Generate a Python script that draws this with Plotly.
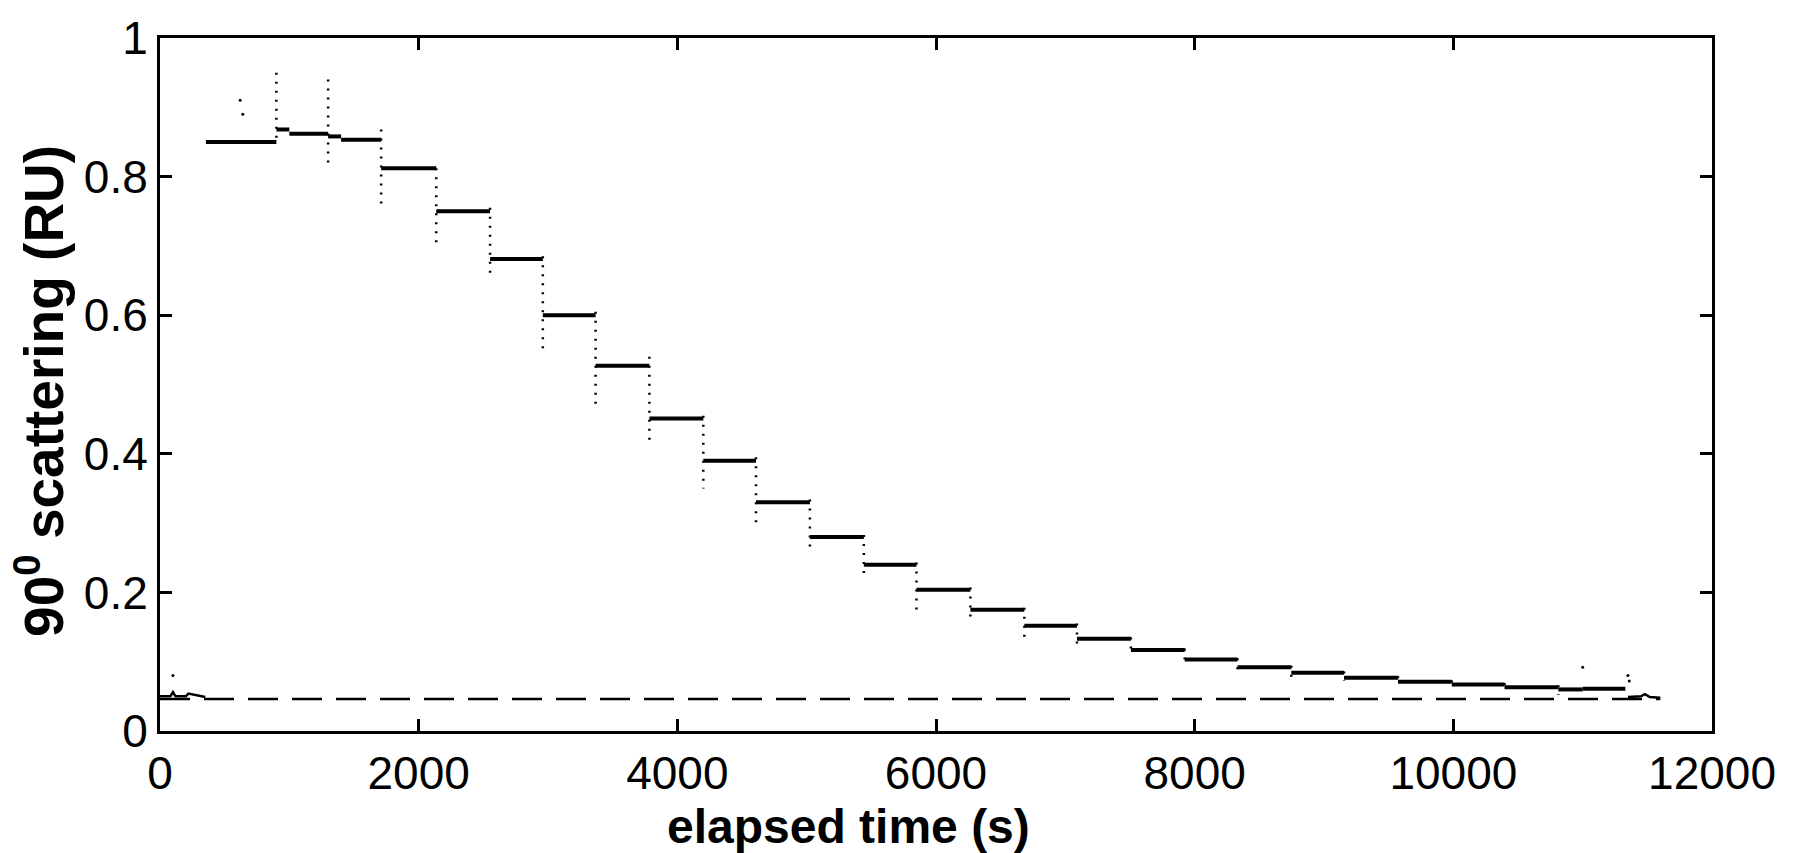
import plotly.graph_objects as go

# ---- data ----
# step plateaus: start time (s), end time (s), level (RU)
step_start = [355, 900, 1000, 1300, 1400, 1710, 2136, 2552, 2960, 3368, 3784, 4201, 4608,
              5025, 5442, 5849, 6266, 6683, 7090, 7507, 7923, 8331, 8747, 9155, 9572,
              9988, 10396, 10812, 11000]
step_end = [900, 1000, 1300, 1400, 1710, 2136, 2552, 2960, 3368, 3784, 4201, 4608, 5025,
            5442, 5849, 6266, 6683, 7090, 7507, 7923, 8331, 8747, 9155, 9572, 9988,
            10396, 10812, 11000, 11330]
step_level = [0.850, 0.868, 0.862, 0.858, 0.853, 0.812, 0.750, 0.681, 0.600, 0.527, 0.451,
              0.390, 0.330, 0.280, 0.240, 0.204, 0.175, 0.152, 0.133, 0.117, 0.103,
              0.092, 0.084, 0.077, 0.071, 0.067, 0.063, 0.060, 0.061]

# transient dots at each dilution step: time, top value, bottom value
trans_time = [900, 1300, 1710, 2136, 2552, 2960, 3368, 3784, 4201, 4608, 5025, 5442,
              5849, 6266, 6683, 7090, 7507, 7923, 8331, 8747, 9155, 9572, 9988, 10396, 10812]
trans_top = [0.950, 0.940, 0.868, 0.812, 0.755, 0.685, 0.605, 0.540, 0.455, 0.395, 0.334,
             0.283, 0.243, 0.207, 0.178, 0.155, 0.135, 0.119, 0.105, 0.094, 0.086, 0.079,
             0.073, 0.069, 0.066]
trans_bottom = [0.850, 0.815, 0.760, 0.700, 0.655, 0.545, 0.465, 0.420, 0.350, 0.295,
                0.265, 0.225, 0.170, 0.160, 0.135, 0.125, 0.110, 0.095, 0.085, 0.078,
                0.072, 0.066, 0.062, 0.058, 0.052]

# baseline (buffer only) segments
base1_t = [0, 80, 100, 120, 200, 220, 350]
base1_v = [0.050, 0.050, 0.056, 0.050, 0.050, 0.054, 0.049]
base2_t = [11350, 11450, 11480, 11520, 11600]
base2_v = [0.049, 0.050, 0.053, 0.049, 0.048]

# isolated stray points
stray_t = [100, 620, 640, 11000, 11350, 11360]
stray_v = [0.080, 0.910, 0.890, 0.092, 0.080, 0.072]

# dashed reference line (buffer baseline)
dash_t = [0, 11600]
dash_v = [0.046, 0.046]

x_ticks = [0, 2000, 4000, 6000, 8000, 10000, 12000]
y_ticks = [0, 0.2, 0.4, 0.6, 0.8, 1]

# ---- build traces ----
plat_x, plat_y = [], []
for s, e, v in zip(step_start, step_end, step_level):
    plat_x += [s, e, None]
    plat_y += [v, v, None]

tr_x, tr_y = [], []
for t, a, b in zip(trans_time, trans_top, trans_bottom):
    tr_x += [t, t, None]
    tr_y += [a, b, None]

fig = go.Figure()
fig.add_trace(go.Scatter(x=dash_t, y=dash_v, mode="lines",
                         line=dict(color="black", width=2.5, dash="30px,14px"),
                         showlegend=False, hoverinfo="skip"))
fig.add_trace(go.Scatter(x=tr_x, y=tr_y, mode="lines",
                         line=dict(color="black", width=2.5, dash="2px,7px"),
                         showlegend=False, hoverinfo="skip"))
fig.add_trace(go.Scatter(x=plat_x, y=plat_y, mode="lines",
                         line=dict(color="black", width=4),
                         showlegend=False))
fig.add_trace(go.Scatter(x=base1_t, y=base1_v, mode="lines",
                         line=dict(color="black", width=2.5), showlegend=False))
fig.add_trace(go.Scatter(x=base2_t, y=base2_v, mode="lines",
                         line=dict(color="black", width=2.5), showlegend=False))
fig.add_trace(go.Scatter(x=stray_t, y=stray_v, mode="markers",
                         marker=dict(color="black", size=3), showlegend=False))

axis_common = dict(showline=True, linecolor="black", linewidth=3, mirror="ticks",
                   ticks="inside", ticklen=12, tickwidth=3, tickcolor="black",
                   showgrid=False, zeroline=False,
                   tickfont=dict(family="Liberation Sans, Arial", size=46, color="black"))

fig.update_xaxes(range=[0, 12000], tickvals=x_ticks,
                 ticktext=[str(v) for v in x_ticks], **axis_common)
fig.update_yaxes(range=[0, 1], tickvals=y_ticks,
                 ticktext=["0", "0.2", "0.4", "0.6", "0.8", "1"], **axis_common)

fig.add_annotation(text="<b>elapsed time (s)</b>", xref="paper", yref="paper",
                   x=(848 - 160) / 1552, y=-(827 - 731) / 699, showarrow=False,
                   xanchor="center", yanchor="middle",
                   font=dict(family="Liberation Sans, Arial", size=48, color="black"))
fig.add_annotation(text="<b>90<sup>0</sup> scattering (RU)</b>", xref="paper", yref="paper",
                   x=-(160 - 40) / 1552, y=(731 - 388) / 699, showarrow=False, textangle=-90,
                   xanchor="center", yanchor="middle",
                   font=dict(family="Liberation Sans, Arial", size=55, color="black"))

fig.update_layout(width=1797, height=853,
                  margin=dict(l=160, r=85, t=32, b=122),
                  plot_bgcolor="white", paper_bgcolor="white")

fig.write_html("out.html")
